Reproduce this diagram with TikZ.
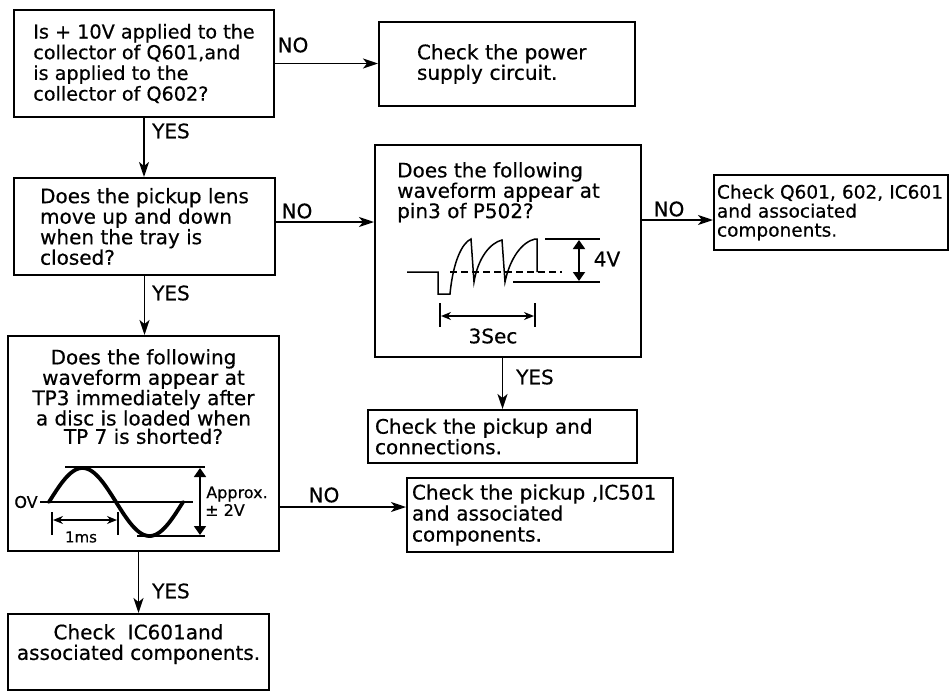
\documentclass[tikz,border=0pt]{standalone}
\usepackage{fontspec}
\setmainfont{DejaVu Sans}[FakeBold=0.5]
\usetikzlibrary{arrows.meta, calc}

\tikzset{
  box/.style={draw, line width=2pt, inner sep=0pt, align=left},
  flow/.style={line width=1.8pt, -{Stealth[length=15pt,width=10pt,inset=4pt]}},
  ans/.style={inner sep=0pt},
  dim/.style={line width=1.5pt, {Stealth[length=10pt,width=8pt]}-{Stealth[length=10pt,width=8pt]}},
  amp/.style={line width=1.8pt, {Triangle[length=9pt,width=12pt]}-{Triangle[length=9pt,width=12pt]}},
  wave/.style={line width=1.5pt},
}

\begin{document}
\begin{tikzpicture}[x=1pt, y=-1pt, font=\fontsize{20}{20.5}\selectfont]
\useasboundingbox (0,0) rectangle (950,696);

% Question boxes
\node[box, minimum width=260pt, minimum height=107pt, font=\fontsize{19.2}{20.7}\selectfont] (q1) at (144,63.5) {Is + 10V applied to the\\collector of Q601,and\\is applied to the\\collector of Q602?};
\node[box, minimum width=261pt, minimum height=97pt] (q2) at (144.5,226.5) {Does the pickup lens\\move up and down\\when the tray is\\closed?};
\node[box, minimum width=266pt, minimum height=212pt] (q3) at (508,251) {};
\node[box, minimum width=271pt, minimum height=215pt] (q4) at (143.5,443.5) {};

% Question texts over the waveforms
\node[ans, anchor=north west, align=left, font=\fontsize{20}{18}\selectfont] (t3) at (397,162) {Does the following\\waveform appear at\\pin3 of P502?};
\node[ans, anchor=north, align=center, font=\fontsize{20}{18.3}\selectfont] (t4) at (143.5,349) {Does the following\\waveform appear at\\TP3 immediately after\\a disc is loaded when\\TP 7 is shorted?};

% Result boxes
\node[box, minimum width=256pt, minimum height=84pt, text width=180pt, inner xsep=38pt] (r1) at (507,64) {Check the power\\supply circuit.};
\node[box, minimum width=234pt, minimum height=75pt, text width=228pt, inner xsep=3pt, font=\fontsize{18.5}{19}\selectfont] (r2) at (831,212.5) {Check Q601, 602, IC601\\and associated\\components.};
\node[box, minimum width=269pt, minimum height=53pt, text width=255pt, inner xsep=7pt] (r3) at (502.5,436.5) {Check the pickup and\\connections.};
\node[box, minimum width=266pt, minimum height=74pt, text width=256pt, inner xsep=5pt, font=\fontsize{20}{21}\selectfont] (r4) at (540,515) {Check the pickup ,IC501\\and associated\\components.};
\node[box, minimum width=261pt, minimum height=76pt, align=center, text depth=20pt] (r5) at (138.5,652) {Check\ \ IC601and\\associated components.};

% Connectors
\coordinate (a2) at ([yshift=4.5pt]q2.east);
\coordinate (a3) at ([yshift=-7.5pt]r2.west);
\coordinate (a4) at ([yshift=8pt]r4.west);
\draw[flow] (q1.east) -- (q1.east -| r1.west);
\draw[flow] (q1.south) -- (q1.south |- q2.north);
\draw[flow] (a2) -- (a2 -| q3.west);
\draw[flow] (q2.south) -- (q2.south |- q4.north);
\draw[flow] (a3 -| q3.east) -- (a3);
\draw[flow] (q3.south -| r3.north) -- (r3.north);
\draw[flow] (a4 -| q4.east) -- (a4);
\draw[flow] (q4.south -| r5.north) -- (r5.north);

% Answer labels
\node[ans] (no1) at (293,45) {NO};
\node[ans] (yes1) at (171,131) {YES};
\node[ans] (no2) at (297,211) {NO};
\node[ans] (yes2) at (171,293) {YES};
\node[ans] (no3) at (669,209) {NO};
\node[ans] (yes3) at (535,377) {YES};
\node[ans] (no4) at (324,495) {NO};
\node[ans] (yes4) at (171,591) {YES};

% Waveform at pin3 of P502
\draw[wave] (407,272) -- (438,272) -- (438,294) -- (450,294)
  .. controls (453,262) and (462,243) .. (471,239) -- (474,282)
  .. controls (478,258) and (490,243) .. (502,240) -- (505,282)
  .. controls (510,258) and (522,242) .. (535,239) -- (537,239) -- (537,272);
\draw[wave, dash pattern=on 7pt off 4pt] (450,272) -- (562,272);
\draw[line width=1.8pt] (545,239) -- (600,239);
\draw[line width=1.8pt] (513,282) -- (600,282);
\draw[amp] (579,240) -- (579,281);
\node[ans] (v4) at (607,259) {4V};
\draw[wave] (440,303) -- (440,327);
\draw[wave] (535,303) -- (535,327);
\draw[dim] (441,316) -- (534,316);
\node[ans] (s3) at (493,336) {3Sec};

% Waveform at TP3
\draw[line width=1.2pt] (40,502) -- (193,502);
\draw[line width=3.8pt, line cap=round] plot[domain=0:360, samples=72, smooth] ({49+\x/360*134},{502-34*sin(\x)});
\draw[line width=1.5pt] (65,467) -- (205,467);
\draw[line width=1.5pt] (137,536) -- (205,536);
\draw[amp] (200,468) -- (200,535);
\node[ans, font=\fontsize{16}{16}\selectfont] (zv) at (26,502) {OV};
\node[ans, font=\fontsize{16}{16}\selectfont] (apx) at (237,494) {Approx.};
\node[ans, font=\fontsize{16}{16}\selectfont] (pm) at (225,510) {± 2V};
\draw[wave] (52,512) -- (52,535);
\draw[wave] (118,512) -- (118,535);
\draw[dim] (53,520) -- (117,520);
\node[ans, font=\fontsize{15}{15}\selectfont] (ms) at (81,537) {1ms};
\end{tikzpicture}
\end{document}
